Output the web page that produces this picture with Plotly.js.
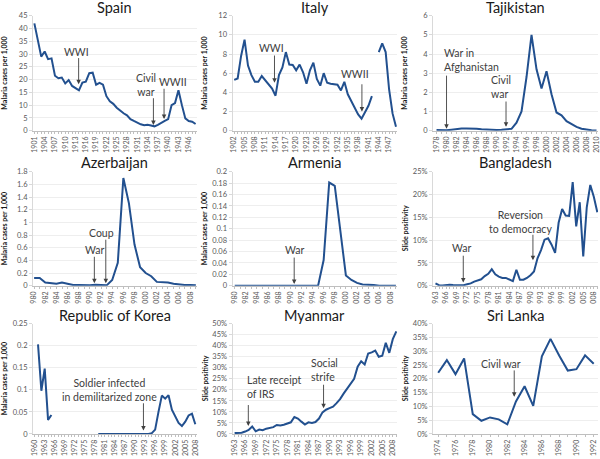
<!DOCTYPE html>
<html><head><meta charset="utf-8">
<script src="https://cdn.plot.ly/plotly-3.0.1.min.js"></script>
<style>html,body{margin:0;padding:0;background:#fff}#chart{width:600px;height:459px}</style>
</head><body><div id="chart"></div>
<script>
// ---------------- DATA ----------------
const spainStart = 1901;
const spainValues = [42,35,29,31,28,28.3,21.5,20.5,20.8,18.5,
  19.8,17.5,16.5,15.8,18.8,19.2,22.5,22.7,18,18.7,
  18,13.5,11.5,10.5,9,7.8,6.8,6,4.5,3.8,
  3,2.5,2.1,2.3,2,1.7,2.3,3.2,3.8,4.5,
  10,10.8,15.8,10,4.8,3.8,3.5,2.6];
const spainTicks = [1901,1904,1907,1910,1913,1916,1919,1922,1925,1928,1931,1934,1937,1940,1943,1946];

const italyStart = 1902;
const italyValues = [5.3,5.45,7.8,9.5,6.8,5.8,5.1,5.1,5.7,5.3,
  4.8,4.4,3.65,5.8,6.6,8.2,6.9,6.85,6.3,6.9,
  6.1,4.9,6.3,7.1,5.4,4.7,6.0,5.0,4.9,4.85,
  4.8,4.2,5.1,3.8,3.1,2.5,1.7,1.25,2.0,2.6,
  3.6,null,8.2,9.1,8.2,4.3,1.8,0.4];
const italyTicks = [1902,1905,1908,1911,1914,1917,1920,1923,1926,1929,1932,1935,1938,1941,1944,1947];

const tajikStart = 1978;
const tajikValues = [0.03,0.02,0.02,0.05,0.09,0.11,0.12,0.12,0.1,0.08,
  0.06,0.05,0.04,0.05,0.06,0.1,0.42,1.0,2.8,5.0,
  3.2,2.2,3.1,1.9,0.95,0.8,0.5,0.35,0.2,0.1,
  0.05,0.02,0.01];
const tajikTicks = [1978,1980,1982,1984,1986,1988,1990,1992,1994,1996,1998,2000,2002,2004,2006,2008,2010];

const azerStart = 1980;
const azerValues = [0.12,0.12,0.05,0.04,0.03,0.05,0.03,0.01,0.01,0.005,
  0.005,0.015,0.005,0.005,0.09,0.36,1.7,1.3,0.65,0.29,
  0.2,0.15,0.06,0.06,0.05,0.03,0.015,0.01,0.01,0.005];
const azerTicks = [1980,1982,1984,1986,1988,1990,1992,1994,1996,1998,2000,2002,2004,2006,2008];
const azerTickText = ['980','982','984','986','988','990','992','994','996','998','000','002','004','006','008'];

const armeniaStart = 1980;
const armeniaValues = [0,0,0,0,0,0,0,0,0,0,
  0,0,0,0,0,0,0.045,0.181,0.175,0.1,
  0.018,0.01,0.005,0.002,0.002,0.001,0,0,0,0];
const armeniaTicks = azerTicks;
const armeniaTickText = azerTickText;

const bangStart = 1963;
const bangValues = [0.5,0.1,0.05,0.2,0.2,0.15,0.15,0.1,0.1,0.3,
  0.5,0.9,1.1,1.4,2.1,2.6,3.6,2.5,2.0,1.7,
  1.7,1.3,1.0,3.5,1.3,1.3,1.7,2.3,3.1,6.0,
  7.8,10.1,10.4,9.0,7.2,13.8,16.8,15.4,15.3,22.7,
  13.0,18.3,6.4,17.2,22.1,19.5,16.1];
const bangTicks = [1963,1966,1969,1972,1975,1978,1981,1984,1987,1990,1993,1996,1999,2002,2005,2008];
const bangTickText = ['963','966','969','972','975','978','981','984','987','990','993','996','999','002','005','008'];

const koreaStart = 1961;
const koreaValues = [0.203,0.098,0.148,0.032,0.043,
  null,null,null,null,null,null,null,null,null,null,null,null,null,
  0,0,0,0,0,0,0,0,0,0,0,0,0,0,0,0,
  0.002,0.01,0.05,0.087,0.08,0.088,0.055,0.038,0.025,0.018,
  0.028,0.042,0.046,0.022];
const koreaTicks = [1960,1963,1966,1969,1972,1975,1978,1981,1984,1987,1990,1993,1996,1999,2002,2005,2008];

const myanmarStart = 1963;
const myanmarValues = [0.4,0.4,0.6,1.1,1.8,3.4,1.2,2.0,1.7,2.4,
  2.6,3.1,4.1,3.9,4.2,4.8,5.3,7.7,7.0,5.6,
  4.3,5.3,5.0,5.4,7.0,9.8,11.0,11.7,12.4,14.0,
  15.8,18.3,20.5,22.5,25.0,30.5,33.0,31.5,36.5,37.0,
  37.8,35.0,35.5,41.3,36.8,43.0,46.5];
const myanmarTicks = [1963,1966,1969,1972,1975,1978,1981,1984,1987,1990,1993,1996,1999,2002,2005,2008];

const sriStart = 1974;
const sriValues = [22.2,26.8,21.7,27.4,7.2,4.8,6.0,5.3,3.5,11.8,
  17.3,10.2,28.2,34.5,28.5,23.0,23.5,28.5,25.5];
const sriTicks = [1974,1976,1978,1980,1982,1984,1986,1988,1990,1992];

// ---------------- STYLE / LAYOUT ----------------
function yearsFor(start, values){ return values.map((_, i) => start + i); }

const LINE = '#22508F';
const FONT = 'Lato, "Open Sans", sans-serif';
const colX = [[0.055,0.3283],[0.3875,0.6617],[0.7217,0.9967]];
const rowY = [[0.7153,0.9658],[0.3776,0.6259],[0.0545,0.2948]];
const titleY = [0.9826,0.647,0.3137];
const ytitleX = [4.5/600, 204.5/600, 404.5/600];
const MAL = 'Malaria cases per 1,000', SP = 'Slide positivity';

const panels = [
 {title:'Spain', start:spainStart, values:spainValues, ticks:spainTicks, col:0,row:0, xr:[1900.6,1948.4], yr:[0,45], dtick:5, yt:MAL,
  notes:[{t:'WWI',x:1913.2,y:30.6}], arrows:[[1913.9,29,1913.9,18.2],[1935.7,13.3,1935.7,2.2],[1938.8,17,1938.8,4.6]],
  notes2:[{t:'Civil<br>war',x:1933.4,y:17.9},{t:'WWII',x:1941.5,y:19.2}]},
 {title:'Italy', start:italyStart, values:italyValues, ticks:italyTicks, col:1,row:0, xr:[1901.5,1949.3], yr:[0,12], dtick:2, yt:MAL,
  notes:[{t:'WWI',x:1912.7,y:8.66},{t:'WWII',x:1937.1,y:5.9}], arrows:[[1913.7,8.0,1913.7,5.0],[1939.1,5.0,1939.1,2.0]]},
 {title:'Tajikistan', start:tajikStart, values:tajikValues, ticks:tajikTicks, col:2,row:0, xr:[1977.3,2010.3], yr:[0,6], dtick:1, yt:MAL,
  notes:[{t:'War in<br>Afghanistan',x:1979.0,y:3.7,xa:'left'},{t:'Civil<br>war',x:1988.5,y:2.28,xa:'left'}], arrows:[[1980,2.95,1980,0.1],[1991.9,1.6,1991.9,0.2]]},
 {title:'Azerbaijan', start:azerStart, values:azerValues, ticks:azerTicks, tt:azerTickText, col:0,row:1, xr:[1979.8,2009.2], yr:[0,1.8], dtick:0.2, yt:MAL,
  notes:[{t:'Coup',x:1992.1,y:0.83},{t:'War',x:1990.8,y:0.56}], arrows:[[1992.85,0.75,1992.85,0.04],[1990.8,0.48,1990.8,0.04]]},
 {title:'Armenia', start:armeniaStart, values:armeniaValues, ticks:armeniaTicks, tt:armeniaTickText, col:1,row:1, xr:[1979.6,2009.2], yr:[0,0.2], dtick:0.02, yt:MAL,
  notes:[{t:'War',x:1990.7,y:0.0626}], arrows:[[1990.7,0.052,1990.7,0.003]]},
 {title:'Bangladesh', start:bangStart, values:bangValues, ticks:bangTicks, tt:bangTickText, col:2,row:1, xr:[1962.3,2009.2], yr:[0,25], dtick:5, suffix:'%', yt:SP,
  notes:[{t:'War',x:1970.3,y:8.2},{t:'Reversion<br>to democracy',x:1987.2,y:14}], arrows:[[1970.9,6.9,1970.9,0.7],[1990.7,11.5,1990.7,5.6]]},
 {title:'Republic of Korea', start:koreaStart, values:koreaValues, ticks:koreaTicks, col:0,row:2, xr:[1959.5,2008.5], yr:[0,0.25], dtick:0.05, yt:MAL,
  notes:[{t:'Soldier infected<br>in demilitarized zone',x:1982.3,y:0.100}], arrows:[[1992.5,0.073,1992.5,0.008]]},
 {title:'Myanmar', start:myanmarStart, values:myanmarValues, ticks:myanmarTicks, col:1,row:2, xr:[1962.4,2009.2], yr:[0,50], dtick:5, suffix:'%', yt:SP,
  notes:[{t:'Late receipt<br>of IRS',x:1966.0,y:21.4,xa:'left'},{t:'Social<br>strife',x:1984.2,y:28.9,xa:'left'}], arrows:[[1966.9,13.8,1966.9,3.6],[1988.3,23,1988.3,11.7]]},
 {title:'Sri Lanka', start:sriStart, values:sriValues, ticks:sriTicks, col:2,row:2, xr:[1973.4,1992.5], yr:[0,40], dtick:5, suffix:'%', yt:SP,
  notes:[{t:'Civil war',x:1981.3,y:25.5}], arrows:[[1982.8,23.6,1982.8,13.5]]}
];

const data = [];
const layout = {width:600, height:459, margin:{l:0,r:0,t:0,b:0}, paper_bgcolor:'#fff', plot_bgcolor:'#fff',
  showlegend:false, font:{family:FONT, color:'#404040'}, annotations:[]};

panels.forEach((p, i) => {
  const n = i === 0 ? '' : String(i + 1);
  const xa = 'x' + n, ya = 'y' + n;
  data.push({type:'scatter', mode:'lines', x:yearsFor(p.start, p.values), y:p.values, xaxis:xa, yaxis:ya,
    line:{color:LINE, width:2}, connectgaps:false, hoverinfo:'skip', name:p.title});
  layout['xaxis' + n] = {domain:colX[p.col], anchor:ya, range:p.xr, tickmode:'array', tickvals:p.ticks,
    ticktext:p.tt || p.ticks.map(String), tickangle:-90, tickfont:{family:FONT, size:7, color:'#595959'},
    showgrid:false, zeroline:false, showline:true, linecolor:'#bfbfbf', linewidth:1,
    ticks:'outside', ticklen:2, tickcolor:'#bfbfbf', tickwidth:1,
    minor:{tickmode:'linear', tick0:p.ticks[0], dtick:1, ticks:'outside', ticklen:2, tickcolor:'#bfbfbf', showgrid:false},
    fixedrange:true};
  layout['yaxis' + n] = {domain:rowY[p.row], anchor:xa, range:p.yr, tickmode:'linear', tick0:0, dtick:p.dtick,
    ticksuffix:p.suffix || '', tickfont:{family:FONT, size:7.5, color:'#595959'},
    showgrid:true, gridcolor:'#eeeeee', gridwidth:1, zeroline:false, showline:true, linecolor:'#d9d9d9',
    ticks:'outside', ticklen:3, tickcolor:'#d9d9d9', fixedrange:true};
  // panel title
  layout.annotations.push({text:p.title, xref:'paper', yref:'paper', x:(colX[p.col][0]+colX[p.col][1])/2, y:titleY[p.row],
    xanchor:'center', yanchor:'middle', showarrow:false, font:{family:FONT, size:14.5, color:'#1a1a1a'}});
  // y-axis title
  layout.annotations.push({text:'<b>' + p.yt + '</b>', xref:'paper', yref:'paper', x:ytitleX[p.col],
    y:(rowY[p.row][0]+rowY[p.row][1])/2, textangle:-90, xanchor:'center', yanchor:'middle', showarrow:false,
    font:{family:FONT, size:7, color:'#1a1a1a'}});
  const allNotes = (p.notes || []).concat(p.notes2 || []);
  allNotes.forEach(a => layout.annotations.push({text:a.t, xref:xa, yref:ya, x:a.x, y:a.y, showarrow:false,
    xanchor:a.xa || 'center', yanchor:'middle', align:a.xa || 'center', font:{family:FONT, size:10.5, color:'#404040'}}));
  p.arrows.forEach(r => layout.annotations.push({text:'', xref:xa, yref:ya, axref:xa, ayref:ya,
    ax:r[0], ay:r[1], x:r[2], y:r[3], showarrow:true, arrowhead:2, arrowsize:1, arrowwidth:0.9, arrowcolor:'#404040'}));
});

Plotly.newPlot('chart', data, layout, {displayModeBar:false, staticPlot:true});
</script>
</body></html>
